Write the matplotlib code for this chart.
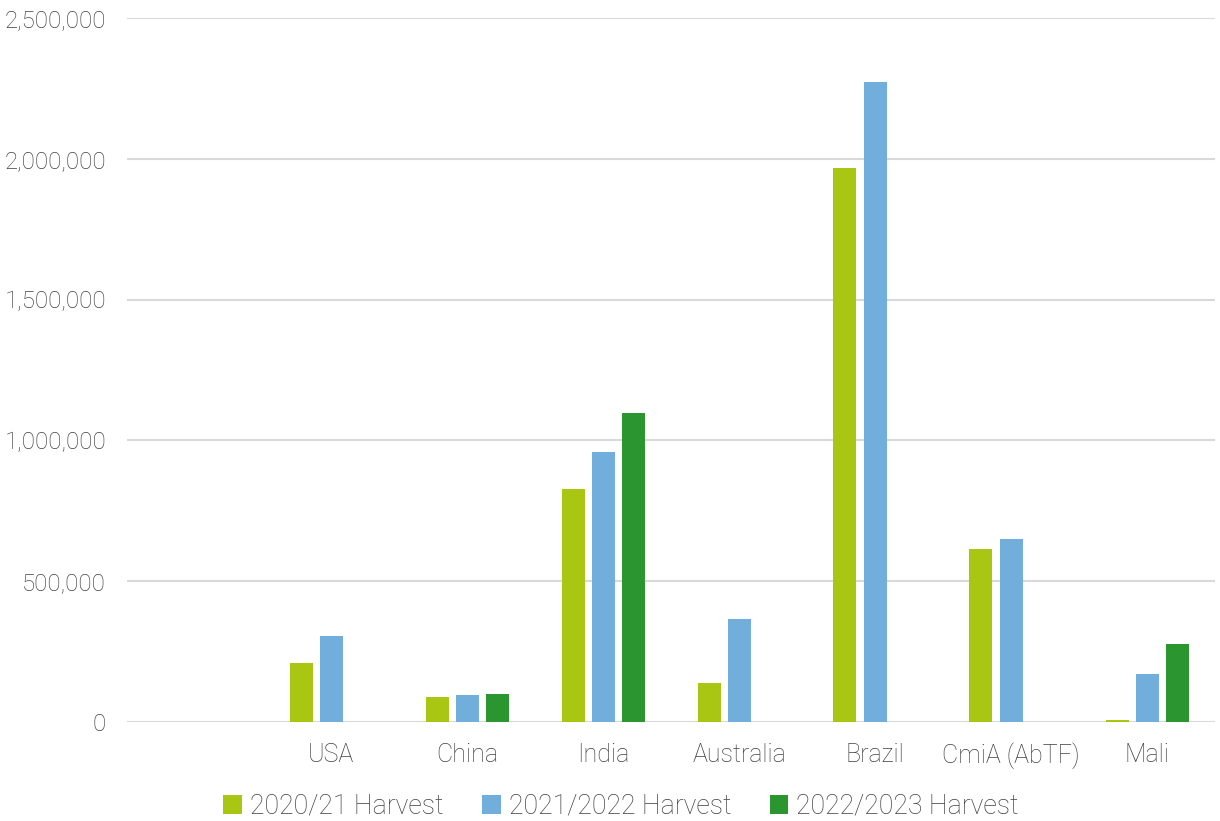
import matplotlib
matplotlib.use("Agg")
import matplotlib.pyplot as plt
import numpy as np
from matplotlib.ticker import FuncFormatter

categories = ["", "USA", "China", "India", "Australia", "Brazil", "CmiA (AbTF)", "Mali"]
series_names = ["2020/21 Harvest", "2021/2022 Harvest", "2022/2023 Harvest"]
h2020 = [np.nan, 209500, 88800, 827000, 137400, 1967000, 614000, 8000]
h2021 = [np.nan, 305400, 95900, 959000, 365800, 2272700, 650000, 170500]
h2022 = [np.nan, np.nan, 99400, 1097300, np.nan, np.nan, np.nan, 276000]
colors = ["#A9C712", "#72AEDB", "#2B962F"]

plt.rcParams['font.family'] = ['Roboto', 'DejaVu Sans']
text_color = "#404040"

fig = plt.figure(figsize=(12.2, 8.21), dpi=100)
ax = fig.add_axes([127/1220, 1-722/821, (1215-127)/1220, (722-18)/821])

x = np.arange(len(categories))
step = 30/136
width = 23/136
for i, (vals, c, name) in enumerate(zip([h2020, h2021, h2022], colors, series_names)):
    ax.bar(x + (i-1)*step, vals, width, color=c, label=name, linewidth=0, zorder=3)

ax.set_xlim(-0.5, len(categories)-0.5)
ax.set_ylim(0, 2500000)
ax.set_yticks(np.arange(0, 2500001, 500000))
ax.yaxis.set_major_formatter(FuncFormatter(lambda v, p: f"{int(v):,}"))
ax.set_xticks(x)
ax.set_xticklabels(categories)
ax.grid(axis='y', color="#D9D9D9", linewidth=1.5, zorder=0)
for s in ax.spines.values():
    s.set_visible(False)
ax.tick_params(axis='both', length=0, labelcolor=text_color)
ax.tick_params(axis='y', pad=15, labelsize=17.3)
ax.tick_params(axis='x', pad=15, labelsize=18)
for lab in ax.get_xticklabels() + ax.get_yticklabels():
    lab.set_fontweight('light')

leg = ax.legend(loc='center', bbox_to_anchor=(0.454, -0.12), ncol=3, frameon=False,
                handlelength=0.7, handleheight=0.7, handletextpad=0.3,
                columnspacing=1.45, labelcolor=text_color, prop={'weight': 'light', 'size': 19.2})
fig.savefig("out.png", dpi=100)
